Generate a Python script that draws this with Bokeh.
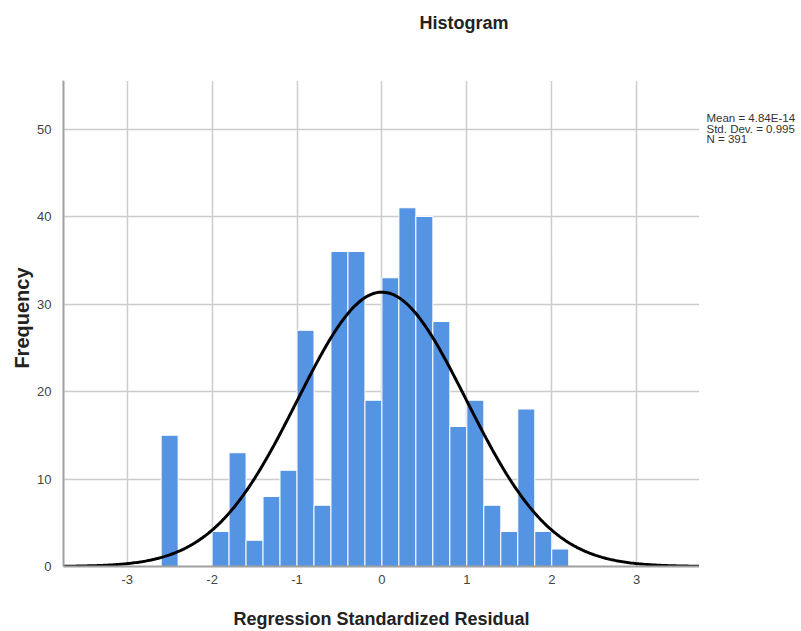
import numpy as np
from bokeh.plotting import figure
from bokeh.layouts import row
from bokeh.models import Range1d, FixedTicker, Label, BoxAnnotation
from bokeh.embed import file_html
from bokeh.resources import INLINE

# ---- data ----
bin_lefts = [-2.6, -2.0, -1.8, -1.6, -1.4, -1.2, -1.0, -0.8, -0.6, -0.4, -0.2,
             0.0, 0.2, 0.4, 0.6, 0.8, 1.0, 1.2, 1.4, 1.6, 1.8, 2.0]
counts = [15, 4, 13, 3, 8, 11, 27, 7, 36, 36, 19,
          33, 41, 40, 28, 16, 19, 7, 4, 18, 4, 2]
bin_width = 0.2
stat_mean = 4.84e-14
stat_sd = 0.995
stat_n = 391
x_ticks = [-3, -2, -1, 0, 1, 2, 3]
y_ticks = [0, 10, 20, 30, 40, 50]
legend_lines = ["Mean = 4.84E-14", "Std. Dev. = 0.995", "N = 391"]

FONT = "Liberation Sans"
H = 631
L_W, P_W, R_W = 34, 665, 102
X_MIN, X_MAX = -3.75, 3.74
Y_MAX = 55.5
FRAME_Y_END = 64.69


def blank(width):
    f = figure(width=width, height=H, output_backend="svg", toolbar_location=None,
               x_axis_type=None, y_axis_type=None,
               x_range=Range1d(0, width), y_range=Range1d(0, H),
               min_border=0, min_border_left=0, min_border_right=0,
               min_border_top=0, min_border_bottom=0)
    f.outline_line_color = None
    f.grid.visible = False
    return f


# ---- left strip: y-axis title ----
left = blank(L_W)
left.add_layout(Label(x=21, y=277, text="Frequency", angle=np.pi / 2,
                      text_align="center", text_baseline="middle", text_font=FONT,
                      text_font_style="bold", text_font_size="20px",
                      text_color="#222222"))

# ---- main histogram ----
p = figure(width=P_W, height=H, output_backend="svg", toolbar_location=None,
           x_range=Range1d(X_MIN, X_MAX), y_range=Range1d(0, FRAME_Y_END),
           min_border_left=29, min_border_right=0, min_border_top=0,
           min_border_bottom=65)
p.outline_line_color = None
p.background_fill_color = "white"

lefts = np.array(bin_lefts)
p.quad(left=lefts, right=lefts + bin_width, bottom=0, top=counts,
       fill_color="#5593E3", line_color="white", line_width=1)

xs = np.linspace(X_MIN, X_MAX, 400)
ys = stat_n * bin_width * np.exp(-0.5 * ((xs - stat_mean) / stat_sd) ** 2) / (stat_sd * np.sqrt(2 * np.pi))
p.line(xs, ys, line_color="black", line_width=3)

for ax in (p.xaxis, p.yaxis):
    ax.major_tick_line_color = None
    ax.minor_tick_line_color = None
    ax.axis_line_color = "#a0a0a0"
    ax.axis_line_width = 2
    ax.major_label_text_font = FONT
    ax.major_label_text_font_size = "13px"
    ax.major_label_text_color = "#444444"

p.yaxis.bounds = (0, Y_MAX)
p.xaxis.ticker = FixedTicker(ticks=x_ticks)
p.yaxis.ticker = FixedTicker(ticks=y_ticks)
p.xaxis.major_label_overrides = {t: str(t) for t in x_ticks}
p.xaxis.axis_label = "Regression Standardized Residual"
p.xaxis.axis_label_text_font = FONT
p.xaxis.axis_label_text_font_style = "bold"
p.xaxis.axis_label_text_color = "#222222"
p.xaxis.axis_label_text_font_size = "18px"
p.xaxis.major_label_standoff = 2
p.xaxis.axis_label_standoff = 22
p.yaxis.major_label_standoff = 6

p.xgrid.ticker = FixedTicker(ticks=x_ticks)
p.ygrid.ticker = FixedTicker(ticks=y_ticks)
p.grid.grid_line_color = "#cccccc"
p.grid.grid_line_width = 1.5

# white cover above the visible plot region (space for the title)
p.add_layout(BoxAnnotation(bottom=Y_MAX, fill_color="white", fill_alpha=1, line_color=None))
p.add_layout(Label(x=0.967, y=62.17, text="Histogram", text_align="center",
                   text_baseline="middle", text_font=FONT, text_font_style="bold",
                   text_font_size="18px", text_color="#222222"))

# ---- right strip: statistics text ----
right = blank(R_W)
for t, yy in zip(legend_lines, [500, 488, 477]):
    right.add_layout(Label(x=7, y=yy, text=t, text_align="left", text_baseline="middle",
                           text_font=FONT, text_font_size="11.5px", text_color="#333333"))

layout = row(left, p, right)
open("out.html", "w").write(file_html(layout, INLINE))
